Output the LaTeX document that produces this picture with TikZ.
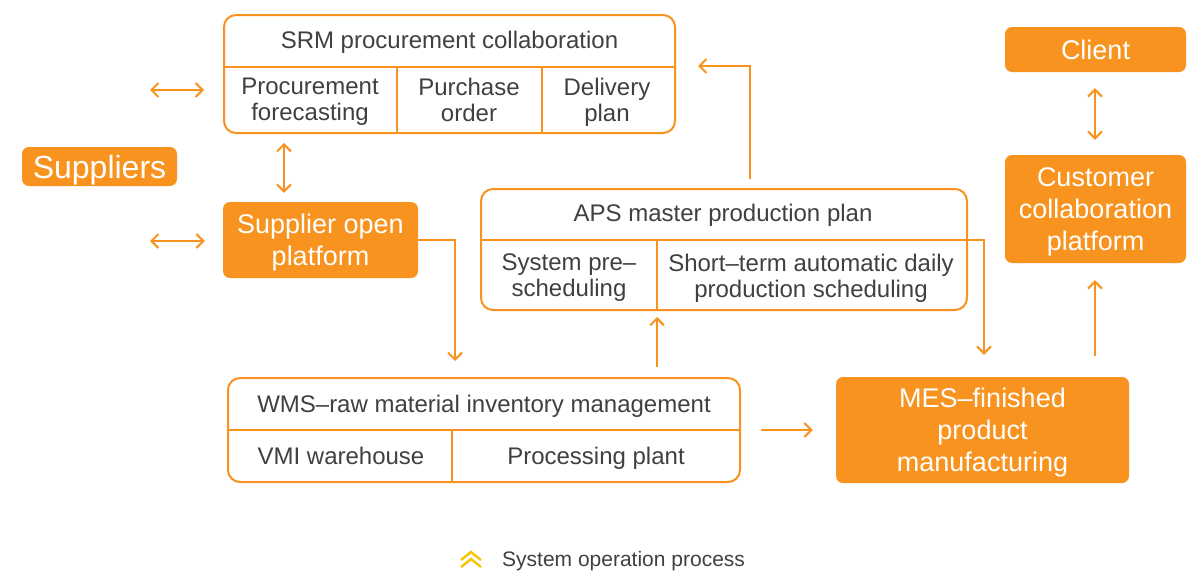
\documentclass[tikz,border=0pt]{standalone}
\usepackage{fontspec}
\setmainfont{Liberation Sans}
\usetikzlibrary{arrows.meta}
\definecolor{orng}{HTML}{F7931E}
\definecolor{txtgray}{HTML}{404040}
\definecolor{chevy}{HTML}{F7C600}
\tikzset{
    tablebox/.style={draw=orng,line width=2pt,rounded corners=12pt,inner sep=0pt},
    fillbox/.style={fill=orng,rounded corners=7pt,text=white,align=center,inner sep=0pt,
        font=\fontsize{27}{32}\selectfont,execute at begin node=\strut,execute at end node=\strut},
    filltext/.style={text=white,align=center,inner sep=0pt,yshift=-5pt,
        font=\fontsize{27}{32}\selectfont,execute at begin node=\strut,execute at end node=\strut},
    celltext/.style={text=txtgray,align=center,inner sep=0pt,yshift=-3.5pt,font=\fontsize{24}{26}\selectfont,
        execute at begin node=\strut,execute at end node=\strut},
    divider/.style={draw=orng,line width=2pt},
    flow/.style={orng,line width=2pt,-{Straight Barb[length=7pt,width=14pt]}},
    twoway/.style={orng,line width=2pt,{Straight Barb[length=7pt,width=14pt]}-{Straight Barb[length=7pt,width=14pt]}},
}

\begin{document}
\begin{tikzpicture}[x=1pt,y=-1pt]
    \useasboundingbox (0,0) rectangle (1198,570);

    \node[tablebox,minimum width=451pt,minimum height=118pt] (srm) at (449.5,74) {};
    \draw[divider] (srm.west |- 0,67) -- (srm.east |- 0,67);
    \draw[divider] (397,67) -- (srm.south -| 397,0);
    \draw[divider] (542,67) -- (srm.south -| 542,0);
    \node[celltext] (srmhead) at (449.5,40) {SRM procurement collaboration};
    \node[celltext] (forecast) at (310,100) {Procurement\\forecasting};
    \node[celltext] (porder) at (469,100) {Purchase\\order};
    \node[celltext] (delivery) at (607,100) {Delivery\\plan};

    \node[fillbox,minimum width=155pt,minimum height=39pt] (suppliers) at (99.5,166.5) {};
    \node[filltext,font=\fontsize{32}{34}\selectfont] (supplierstxt) at (suppliers) {Suppliers};
    \node[fillbox,minimum width=195pt,minimum height=76pt] (sop) at (320.5,240) {};
    \node[filltext] (soptxt) at (sop) {Supplier open\\platform};

    \node[tablebox,minimum width=486pt,minimum height=121pt] (aps) at (724,249.5) {};
    \draw[divider] (aps.west |- 0,240) -- (aps.east |- 0,240);
    \draw[divider] (657,240) -- (aps.south -| 657,0);
    \node[celltext] (apshead) at (723,213) {APS master production plan};
    \node[celltext] (presched) at (569,276) {System pre–\\scheduling};
    \node[celltext] (shortterm) at (811,276) {Short–term automatic daily\\production scheduling};

    \node[tablebox,minimum width=512pt,minimum height=104pt] (wms) at (484,430) {};
    \draw[divider] (wms.west |- 0,430) -- (wms.east |- 0,430);
    \draw[divider] (452,430) -- (wms.south -| 452,0);
    \node[celltext] (wmshead) at (484,404) {WMS–raw material inventory management};
    \node[celltext] (vmi) at (341,456) {VMI warehouse};
    \node[celltext] (plant) at (596,456) {Processing plant};

    \node[fillbox,minimum width=293pt,minimum height=106pt] (mes) at (982.5,430) {};
    \node[filltext] (mestxt) at (mes) {MES–finished\\product\\manufacturing};
    \node[fillbox,minimum width=181pt,minimum height=108pt] (cust) at (1095.5,209) {};
    \node[filltext] (custtxt) at (cust) {Customer\\collaboration\\platform};
    \node[fillbox,minimum width=181pt,minimum height=45pt] (client) at (1095.5,49.5) {};
    \node[filltext,yshift=1pt] (clienttxt) at (client) {Client};

    \coordinate (supa) at (150,90);
    \coordinate (supb) at (150,241);
    \coordinate (apsout) at (950,240);
    \draw[twoway,shorten >=19pt] (supa) -- (srm.west |- supa);
    \draw[twoway,shorten >=18pt] (supb) -- (sop.west |- supb);
    \draw[twoway,shorten <=9pt,shorten >=9pt] (srm.south -| 284,0) -- (sop.north -| 284,0);
    \draw[flow,shorten >=16pt] (sop.east) -| (wms.north -| 455,0);
    \draw[flow,shorten <=10pt,shorten >=6pt] (wms.north -| 657,0) -- (aps.south -| 657,0);
    \draw[flow,shorten <=9pt,shorten >=22pt] (aps.north -| 750,0) |- (srm.east |- 0,66);
    \draw[flow,shorten >=22pt] (apsout) -| (mes.north -| 984,0);
    \draw[flow,shorten <=20pt,shorten >=23pt] (wms.east) -- (mes.west);
    \draw[flow,shorten <=21pt,shorten >=17pt] (mes.north -| 1095,0) -- (cust.south -| 1095,0);
    \draw[twoway,shorten <=16pt,shorten >=15pt] (client.south -| 1095,0) -- (cust.north -| 1095,0);

    \draw[chevy,line width=2.4pt] (461,560) -- (471,552) -- (481,560);
    \draw[chevy,line width=2.4pt] (461,567) -- (471,559) -- (481,567);
    \node[celltext,anchor=west,font=\fontsize{21}{22}\selectfont] (legend) at (502,559) {System operation process};
\end{tikzpicture}
\end{document}
